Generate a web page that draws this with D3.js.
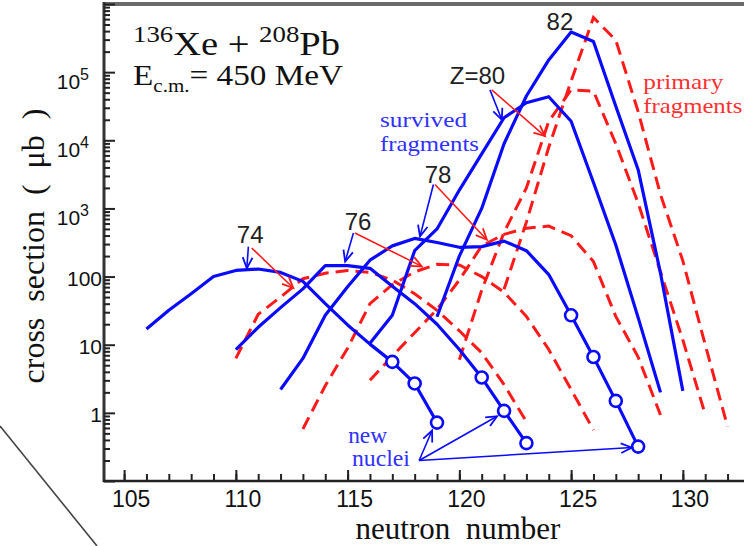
<!DOCTYPE html>
<html>
<head>
<meta charset="utf-8">
<script src="https://cdn.jsdelivr.net/npm/d3@7"></script>
<style>
  body { margin: 0; background: #fff; }
  svg { display: block; }
</style>
</head>
<body>
<svg id="chart" width="744" height="546"></svg>
<script>
// cross sections in microbarn, one value per neutron number starting at the *First value
const survivedFirst = [106, 110, 112, 116, 119];
const survived74 = [17, 32, 56, 100, 123, 129, 115, 85, 40, 19.5, 10.2, 5.6, 2.7, 0.72];
const survived76 = [8.5, 18, 35, 66, 145, 145, 132, 72, 40, 20, 8.5, 3.3, 1.07, 0.36];
const survived78 = [2.2, 6.3, 27, 71, 174, 282, 363, 316, 269, 275, 331, 240, 107, 27, 6.6, 1.5, 0.32];
const survived80 = [10.5, 27, 240, 500, 1860, 6300, 21400, 35500, 43600, 19000, 2400, 290, 25, 2.0];
const survived82 = [25.7, 200, 1000, 8900, 44700, 151000, 389000, 282000, 31600, 3700, 112, 2.1];

const primaryFirst = [110, 113, 116, 120, 122];
const primary74 = [6.3, 28, 50, 93, 112, 123, 115, 89, 56, 32, 16, 7.6, 2.6, 0.74];
const primary76 = [0.58, 2.5, 8.9, 40, 76, 117, 151, 148, 100, 59, 26, 8.5, 2.2, 0.56];
const primary78 = [3.0, 6.8, 15, 33, 89, 282, 417, 513, 550, 398, 166, 26, 6.6, 0.93];
const primary80 = [6.0, 63, 447, 2000, 19000, 55000, 52500, 8900, 1200, 117, 11.7, 0.95];
const primary82 = [65, 630, 7900, 74000, 631000, 295000, 26300, 1600, 170, 10, 0.63];

// isotopes marked as new nuclei (neutron numbers), per Z
const newNuclei = [[117, 118, 119], [121, 122, 123], [125, 126, 127, 128], [], []];

const xMajor = [105, 110, 115, 120, 125, 130];
const yPlain = [1, 10, 100];
const yPower = [3, 4, 5];

// Z labels: text, neutron number, cross section (baseline)
const zLabels = ["74", "76", "78", "Z=80", "82"];
const zLabelN = [110.64, 115.47, 119.05, 120.81, 124.5];
const zLabelSigma = [316, 490, 2400, 66000, 417000];

// arrows [n0, sigma0, n1, sigma1]
const blueArrows = [
  [110.56, 275, 110.49, 132],
  [115.26, 437, 114.89, 166],
  [118.84, 2240, 118.24, 389],
  [121.37, 55000, 121.9, 20000]
];
const redArrows = [
  [110.71, 263, 112.57, 68],
  [115.33, 437, 118.32, 141],
  [118.91, 2240, 121.23, 347],
  [121.45, 55000, 123.83, 11500]
];
const nucleiArrows = [
  [118.2, 0.2, 118.78, 0.55],
  [118.2, 0.2, 121.69, 0.89],
  [118.2, 0.2, 127.72, 0.31]
];

const blue = "#0a0aff", red = "#ff1a1a";
const serif = "'Liberation Serif', 'Times New Roman', serif";
const sans = "'Liberation Sans', Arial, sans-serif";

const svg = d3.select("#chart");
svg.append("rect").attr("width", 744).attr("height", 546).attr("fill", "#fff");

const x = d3.scaleLinear().domain([104.1, 133]).range([104, 749.9]);
const y = d3.scaleLog().domain([0.1, 1e6]).range([481, 4]);

// stray diagonal stroke in the lower left margin
svg.append("line")
  .attr("x1", 0).attr("y1", 426).attr("x2", 97).attr("y2", 546)
  .attr("stroke", "#444").attr("stroke-width", 1.6);

// frame
svg.append("line")
  .attr("x1", x(104.1)).attr("x2", 750).attr("y1", y(1e6)).attr("y2", y(1e6))
  .attr("stroke", "#6a6a6a").attr("stroke-width", 4);
svg.append("line")
  .attr("x1", x(104.1)).attr("x2", x(104.1)).attr("y1", y(1e6) - 2).attr("y2", y(0.1) + 1)
  .attr("stroke", "#333").attr("stroke-width", 3);
svg.append("line")
  .attr("x1", x(104.1) - 1).attr("x2", 750).attr("y1", y(0.1)).attr("y2", y(0.1))
  .attr("stroke", "#222").attr("stroke-width", 2.5);

// ticks, pointing inwards
const yMinor = d3.range(-1, 6).flatMap(e => d3.range(2, 10).map(m => m * Math.pow(10, e)));
const yMajor = d3.range(-1, 7).map(e => Math.pow(10, e));
function styleAxis(g) {
  g.select(".domain").remove();
  g.selectAll("line").attr("stroke", "#222").attr("stroke-width", 2);
}
svg.append("g").attr("transform", `translate(${x(104.1)},0)`)
  .call(d3.axisLeft(y).tickValues(yMinor).tickSizeInner(-6).tickSizeOuter(0).tickFormat(() => ""))
  .call(styleAxis);
svg.append("g").attr("transform", `translate(${x(104.1)},0)`)
  .call(d3.axisLeft(y).tickValues(yMajor).tickSizeInner(-11).tickSizeOuter(0).tickFormat(() => ""))
  .call(styleAxis);
svg.append("g").attr("transform", `translate(0,${y(0.1)})`)
  .call(d3.axisBottom(x).tickValues(d3.range(105, 133)).tickSizeInner(-7).tickSizeOuter(0).tickFormat(() => ""))
  .call(styleAxis);
svg.append("g").attr("transform", `translate(0,${y(0.1)})`)
  .call(d3.axisBottom(x).tickValues(xMajor).tickSizeInner(-11).tickSizeOuter(0).tickFormat(() => ""))
  .call(styleAxis);

// tick labels
svg.append("g").selectAll("text").data(xMajor).join("text")
  .attr("x", d => x(d) + 7).attr("y", 507)
  .attr("text-anchor", "middle")
  .style("font-family", sans).style("font-size", "23px").attr("fill", "#111")
  .text(d => d);
svg.append("g").selectAll("text").data(yPlain).join("text")
  .attr("x", 102).attr("y", d => y(d) + 9)
  .attr("text-anchor", "end")
  .style("font-family", sans).style("font-size", "21px").attr("fill", "#111")
  .text(d => d);
const pw = svg.append("g").selectAll("text").data(yPower).join("text")
  .attr("x", 89).attr("y", d => y(Math.pow(10, d)) + 17)
  .attr("text-anchor", "end")
  .style("font-family", sans).style("font-size", "21px").attr("fill", "#111");
pw.append("tspan").text("10");
pw.append("tspan").attr("dy", -9).style("font-size", "16px").text(d => d);

// axis titles
svg.append("text")
  .attr("transform", "translate(44,246) rotate(-90)")
  .attr("text-anchor", "middle")
  .style("font-family", serif).style("font-size", "32px").style("white-space", "pre")
  .attr("fill", "#111")
  .text("cross  section  (  \u03bcb  )");
svg.append("text")
  .attr("x", 458).attr("y", 539)
  .attr("text-anchor", "middle")
  .style("font-family", serif).style("font-size", "31px").style("white-space", "pre")
  .attr("fill", "#111")
  .text("neutron  number");

// reaction label
const t1 = svg.append("text").attr("x", 133).attr("y", 55)
  .attr("textLength", 207).attr("lengthAdjust", "spacingAndGlyphs")
  .style("font-family", serif).style("font-size", "33px").attr("fill", "#111");
t1.append("tspan").attr("dy", -13).style("font-size", "23px").text("136");
t1.append("tspan").attr("dy", 13).text("Xe + ");
t1.append("tspan").attr("dy", -13).style("font-size", "23px").text("208");
t1.append("tspan").attr("dy", 13).text("Pb");
const t2 = svg.append("text").attr("x", 133).attr("y", 85)
  .attr("textLength", 210).attr("lengthAdjust", "spacingAndGlyphs")
  .style("font-family", serif).style("font-size", "30px").attr("fill", "#111");
t2.append("tspan").text("E");
t2.append("tspan").attr("dy", 7).style("font-size", "19px").text("c.m.");
t2.append("tspan").attr("dy", -7).text("= 450 MeV");

// curves
const series = (first, values) => values.map((v, i) => [first + i, v]);
const line = d3.line().x(d => x(d[0])).y(d => y(d[1]));
const primaries = [primary74, primary76, primary78, primary80, primary82];
const survivors = [survived74, survived76, survived78, survived80, survived82];

svg.append("g").selectAll("path").data(primaries.map((v, i) => series(primaryFirst[i], v))).join("path")
  .attr("d", line).attr("fill", "none")
  .attr("stroke", red).attr("stroke-width", 3).attr("stroke-dasharray", "13,7");
svg.append("g").selectAll("path").data(survivors.map((v, i) => series(survivedFirst[i], v))).join("path")
  .attr("d", line).attr("fill", "none")
  .attr("stroke", blue).attr("stroke-width", 3.2).attr("stroke-linejoin", "round");

// open circles on the new isotopes
const circles = newNuclei.flatMap((ns, k) => ns.map(n => [n, survivors[k][n - survivedFirst[k]]]));
svg.append("g").selectAll("circle").data(circles).join("circle")
  .attr("cx", d => x(d[0])).attr("cy", d => y(d[1])).attr("r", 6)
  .attr("fill", "#fff").attr("stroke", blue).attr("stroke-width", 2.6);

// annotation arrows
function arrow(g, a, color) {
  const x0 = x(a[0]), y0 = y(a[1]), x1 = x(a[2]), y1 = y(a[3]);
  const ang = Math.atan2(y1 - y0, x1 - x0), len = 12, spread = 0.42;
  g.append("line").attr("x1", x0).attr("y1", y0).attr("x2", x1).attr("y2", y1)
    .attr("stroke", color).attr("stroke-width", 1.6);
  const pts = [
    [x1 - len * Math.cos(ang - spread), y1 - len * Math.sin(ang - spread)],
    [x1, y1],
    [x1 - len * Math.cos(ang + spread), y1 - len * Math.sin(ang + spread)]
  ];
  g.append("polyline").attr("points", pts.map(p => p.join(",")).join(" "))
    .attr("fill", "none").attr("stroke", color).attr("stroke-width", 1.8);
}
const ga = svg.append("g");
blueArrows.forEach(a => arrow(ga, a, blue));
redArrows.forEach(a => arrow(ga, a, red));
nucleiArrows.forEach(a => arrow(ga, a, blue));

// Z labels
svg.append("g").selectAll("text").data(zLabels).join("text")
  .attr("x", (d, i) => x(zLabelN[i])).attr("y", (d, i) => y(zLabelSigma[i]))
  .attr("text-anchor", "middle")
  .style("font-family", sans).style("font-size", "24px").attr("fill", "#222")
  .text(d => d);

// two-line captions; widths stretched to the drawn word lengths
function caption(lines, n, sigmas, widths, size, color, anchor) {
  svg.append("g").selectAll("text").data(lines).join("text")
    .attr("x", (d, i) => x(Array.isArray(n) ? n[i] : n))
    .attr("y", (d, i) => y(sigmas[i]))
    .attr("text-anchor", anchor)
    .attr("textLength", (d, i) => widths[i]).attr("lengthAdjust", "spacingAndGlyphs")
    .style("font-family", serif).style("font-size", size + "px").attr("fill", color)
    .text(d => d);
}
caption(["survived", "fragments"], 116.45, [15850, 7030], [87, 99], 21, "#3030ff", "start");
caption(["primary", "fragments"], 128.23, [57300, 25400], [80, 99], 21, "#ff3030", "start");
caption(["new", "nuclei"], [116.77, 117.79], [0.363, 0.166], [39, 58], 24, "#3030ff", "end");
</script>
</body>
</html>
